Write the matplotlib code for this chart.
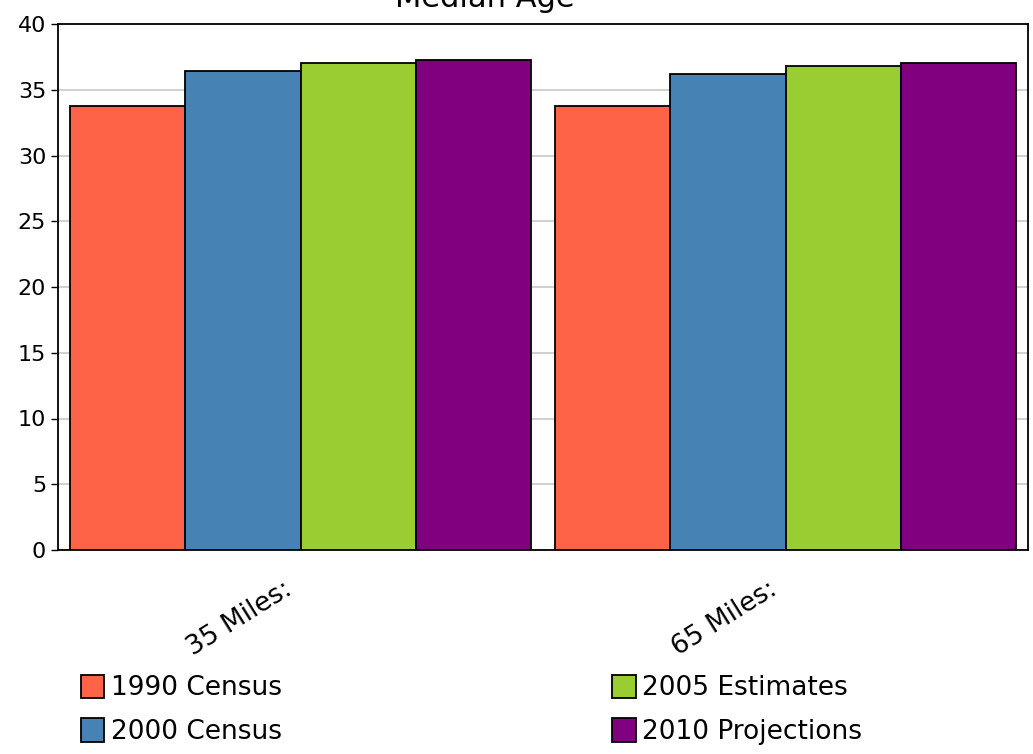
import matplotlib
matplotlib.use("Agg")
import matplotlib.pyplot as plt
import matplotlib.transforms as mtransforms
import numpy as np

# data
categories = ["35 Miles:", "65 Miles:"]
series_names = ["1990 Census", "2000 Census", "2005 Estimates", "2010 Projections"]
census_1990 = [33.8, 33.8]
census_2000 = [36.4, 36.2]
estimates_2005 = [37.0, 36.8]
projections_2010 = [37.3, 37.0]
colors = ["#ff6347", "#4682b4", "#9acd32", "#800080"]

values = [census_1990, census_2000, estimates_2005, projections_2010]

fig = plt.figure(figsize=(10.33, 7.54), dpi=100)
ax = fig.add_axes([58 / 1033, 1 - 550 / 754, (1028 - 58) / 1033, (550 - 24) / 754])

x = np.arange(len(categories))
group_w = 0.95
bar_w = group_w / len(values)
for i, (name, vals) in enumerate(zip(series_names, values)):
    offs = -group_w / 2 + bar_w * (i + 0.5)
    ax.bar(x + offs, vals, bar_w, color=colors[i], edgecolor="black",
           linewidth=1.3, label=name, zorder=3)

ax.set_xlim(-0.5, len(categories) - 0.5)
ax.set_ylim(0, 40)
ax.set_yticks(np.arange(0, 41, 5))
ax.yaxis.grid(True, color="#c8c8c8", linewidth=1.2, zorder=0)
ax.tick_params(axis="y", labelsize=16, length=5, width=1, direction="out")
ax.tick_params(axis="x", length=0, labelsize=19, pad=19)
ax.set_xticks(x)
ax.set_xticklabels(categories, rotation=32, ha="right", rotation_mode="anchor")
# labels sit a little left of the group centre
shift = mtransforms.ScaledTranslation(-18 / 100, 0, fig.dpi_scale_trans)
for lab in ax.get_xticklabels():
    lab.set_transform(lab.get_transform() + shift)
for s in ax.spines.values():
    s.set_linewidth(1.3)
    s.set_color("black")

# title is partly cut off at the top edge, as in the reference
fig.text(485 / 1033, 1 - 7 / 754, "Median Age", ha="center", va="baseline", fontsize=22)

fig.legend(loc="upper left", bbox_to_anchor=(70 / 1033, 1 - 664 / 754), ncol=2,
           frameon=False, fontsize=19, handlelength=0.9, handleheight=1.0,
           handletextpad=0.25, columnspacing=12.5, labelspacing=0.64,
           borderaxespad=0)

fig.savefig("out.png", dpi=100)
